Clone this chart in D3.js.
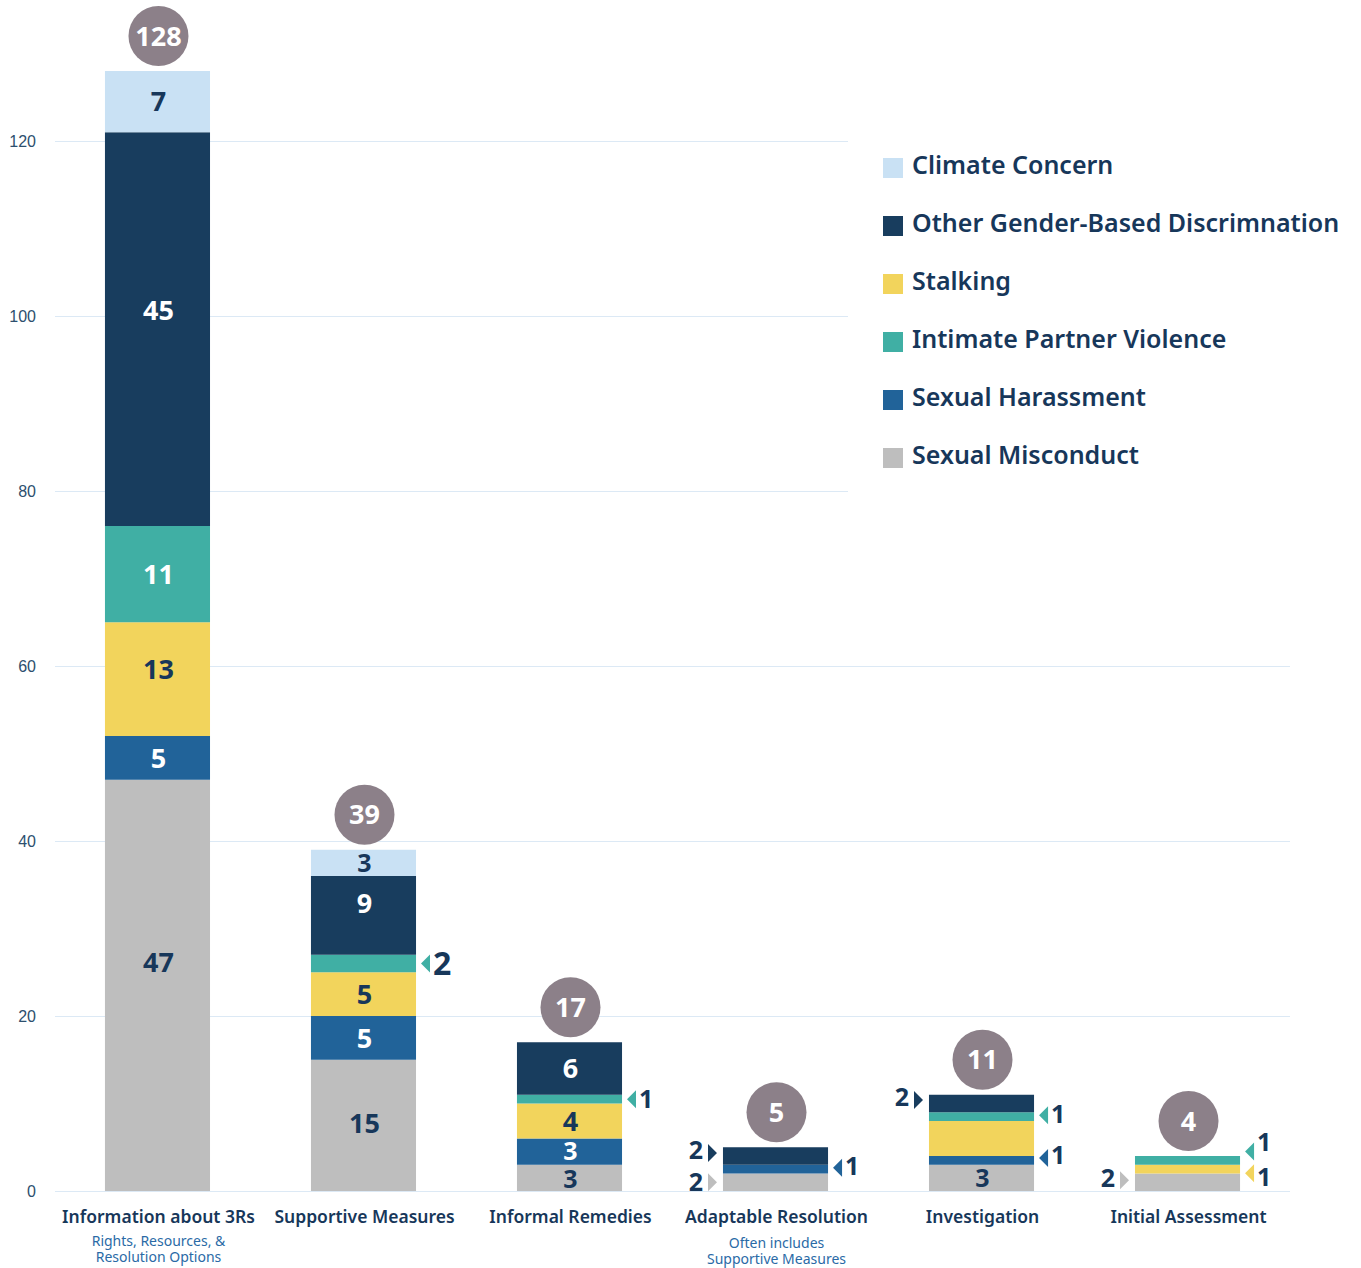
<!DOCTYPE html>
<meta charset="utf-8">
<style>
body { margin: 0; background: #fff; }
svg { font-family: "Noto Sans", "Open Sans", sans-serif; }
.tick text { fill: #2d4f6e; font-size: 16px; }
.grid line { stroke: #dce9f5; stroke-width: 1.2px; }
</style>
<body>
<script src="https://d3js.org/d3.v7.min.js"></script>
<script>

// categories and sub-labels
var categories = ["Information about 3Rs", "Supportive Measures", "Informal Remedies",
                  "Adaptable Resolution", "Investigation", "Initial Assessment"];
var subLabels = [["Rights, Resources, &", "Resolution Options"], [], [],
                 ["Often includes", "Supportive Measures"], [], []];

// series, bottom to top
var seriesNames = ["Sexual Misconduct", "Sexual Harassment", "Stalking",
                   "Intimate Partner Violence", "Other Gender-Based Discrimnation", "Climate Concern"];
var sexualMisconduct = [47, 15, 3, 2, 3, 2];
var sexualHarassment = [5, 5, 3, 1, 1, 0];
var stalking         = [13, 5, 4, 0, 4, 1];
var partnerViolence  = [11, 2, 1, 0, 1, 1];
var otherDiscrim     = [45, 9, 6, 2, 2, 0];
var climateConcern   = [7, 3, 0, 0, 0, 0];
var totals = [128, 39, 17, 5, 11, 4];
var yTicks = [0, 20, 40, 60, 80, 100, 120];

var colors = ["#bebebe", "#216399", "#f2d45c", "#40afa4", "#183d5e", "#c9e1f4"];
var textOn = ["#17375a", "#fff", "#17375a", "#fff", "#fff", "#17375a"];

// where each segment label goes: "in", "left", "right" or "" (none)
var labelPlace = [
  ["in", "in", "in", "in", "in", "in"],
  ["in", "in", "in", "right", "in", "in"],
  ["in", "in", "in", "right", "in", ""],
  ["left", "right", "", "", "left", ""],
  ["in", "right", "", "right", "left", ""],
  ["left", "", "right", "right", "", ""]
];
// small vertical nudges (px) for label text, keyed "category-series"
var nudge = {"0-0": -23, "0-2": -10, "0-4": -19, "1-4": -12, "1-0": -2,
             "3-4": -6, "3-1": -3, "4-4": -7, "4-1": -5, "4-3": -3,
             "5-3": -18, "5-2": 8, "5-0": -4, "2-1": -1, "2-0": 1};

var rows = categories.map(function(c, i) {
  return {cat: c, i: i, v: [sexualMisconduct[i], sexualHarassment[i], stalking[i],
          partnerViolence[i], otherDiscrim[i], climateConcern[i]]};
});

var W = 1361, H = 1268;
var svg = d3.select("body").append("svg")
    .attr("width", W)
    .attr("height", H);

var x = d3.scaleBand().domain(categories).range([55, 1290])
    .paddingInner(0.49).paddingOuter(0.2425);
var y = d3.scaleLinear().domain([0, 120]).range([1191, 141]);

// gridlines
svg.append("g")
    .attr("class", "grid")
    .attr("transform", "translate(55,0)")
    .call(d3.axisLeft(y).tickValues(yTicks).tickSize(-1235).tickFormat(""))
    .call(function(g) { g.select(".domain").remove(); });

// y axis labels
svg.append("g")
    .attr("transform", "translate(36,0)")
    .call(d3.axisLeft(y).tickValues(yTicks).tickSize(0).tickPadding(0))
    .call(function(g) { g.select(".domain").remove(); })
    .selectAll("text").attr("dy", "0.35em");

// legend background hides the top gridlines
svg.append("rect").attr("x", 848).attr("y", 125).attr("width", 513).attr("height", 370).attr("fill", "#fff");

var stack = d3.stack().keys(d3.range(6)).value(function(d, k) { return d.v[k]; });
var layers = stack(rows);

var bw = x.bandwidth();
layers.forEach(function(layer, k) {
  svg.append("g").selectAll("rect")
    .data(layer.filter(function(d) { return d[1] > d[0]; }))
    .join("rect")
      .attr("x", function(d) { return x(d.data.cat); })
      .attr("y", function(d) { return y(d[1]); })
      .attr("width", bw)
      .attr("height", function(d) { return y(d[0]) - y(d[1]); })
      .attr("fill", colors[k]);
});

// segment labels
layers.forEach(function(layer, k) {
  layer.forEach(function(d) {
    var i = d.data.i, place = labelPlace[i][k];
    if (!place || d[1] <= d[0]) return;
    var my = (y(d[0]) + y(d[1])) / 2;
    var cy = my + (nudge[i + "-" + k] || 0);
    var x0 = x(d.data.cat), val = d.data.v[k];
    if (place == "in") {
      var small = (y(d[0]) - y(d[1])) < 30;
      svg.append("text")
        .attr("x", x0 + bw / 2 + 1)
        .attr("y", cy)
        .attr("dy", "0.36em")
        .attr("text-anchor", "middle")
        .attr("font-size", small ? 25 : 27).attr("font-weight", 700)
        .attr("fill", textOn[k])
        .text(val);
    } else if (place == "right") {
      var tx = x0 + bw + 5;
      svg.append("path")
        .attr("d", "M" + tx + "," + (my + cy) / 2 + "l9,-9v18z")
        .attr("fill", colors[k]);
      svg.append("text")
        .attr("x", tx + 12).attr("y", cy).attr("dy", "0.36em")
        .attr("font-size", (i == 1 ? 32 : 25)).attr("font-weight", 700)
        .attr("fill", "#17375a")
        .text(val);
    } else {
      var lx = x0 - 6;
      svg.append("path")
        .attr("d", "M" + lx + "," + (my + cy) / 2 + "l-9,-9v18z")
        .attr("fill", colors[k]);
      svg.append("text")
        .attr("x", lx - 14).attr("y", cy).attr("dy", "0.36em")
        .attr("text-anchor", "end")
        .attr("font-size", 25).attr("font-weight", 700)
        .attr("fill", "#17375a")
        .text(val);
    }
  });
});

// total bubbles
var bub = svg.append("g").selectAll("g")
  .data(rows)
  .join("g")
    .attr("transform", function(d) {
      return "translate(" + (x(d.cat) + bw / 2 + 1) + "," + (y(totals[d.i]) - 35) + ")";
    });
bub.append("circle").attr("r", 30).attr("fill", "#8c8089");
bub.append("text")
    .attr("text-anchor", "middle").attr("dy", "0.36em")
    .attr("font-size", 27).attr("font-weight", 700).attr("fill", "#fff")
    .text(function(d) { return totals[d.i]; });

// category labels
var cl = svg.append("g").selectAll("g")
  .data(rows)
  .join("g")
    .attr("transform", function(d) { return "translate(" + (x(d.cat) + bw / 2 + 1) + ",0)"; });
cl.append("text")
    .attr("y", 1223).attr("text-anchor", "middle")
    .attr("font-size", 17.5).attr("font-weight", 600).attr("fill", "#17375a")
    .text(function(d) { return d.cat; });
cl.selectAll("text.sub")
  .data(function(d) { return subLabels[d.i].map(function(s) { return {s: s, i: d.i}; }); })
  .join("text")
    .attr("class", "sub")
    .attr("y", function(s, j) { return 1246 + j * 16 + (s.i == 3 ? 2 : 0); })
    .attr("text-anchor", "middle")
    .attr("font-size", 14).attr("fill", "#2a6aa6")
    .text(function(s) { return s.s; });

// legend
var legendOrder = [5, 4, 2, 3, 1, 0];
var lg = svg.append("g").selectAll("g")
  .data(legendOrder)
  .join("g")
    .attr("transform", function(k, j) { return "translate(883," + (158 + j * 58) + ")"; });
lg.append("rect").attr("width", 20).attr("height", 20)
    .attr("fill", function(k) { return colors[k]; });
lg.append("text")
    .attr("x", 29).attr("y", 16)
    .attr("font-size", 25).attr("font-weight", 600).attr("fill", "#17375a")
    .text(function(k) { return seriesNames[k]; });

</script>
</body>
